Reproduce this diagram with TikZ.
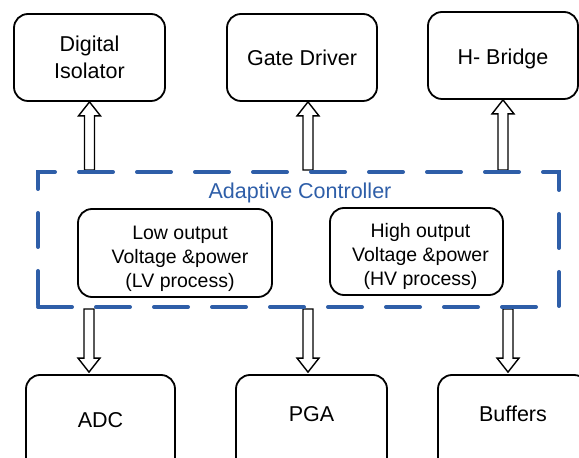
\documentclass[tikz,border=0pt]{standalone}
\usepackage{fontspec}
\setmainfont{Liberation Sans}
\usetikzlibrary{calc,backgrounds}
\definecolor{ctrlblue}{RGB}{46,94,168}
\begin{document}
\begin{tikzpicture}[x=1pt,y=1pt,
  box/.style={draw, line width=1.8pt, rounded corners=14pt, inner sep=0pt, align=center},
  bigtxt/.style={font=\fontsize{21.5}{27}\selectfont},
  midtxt/.style={font=\fontsize{19.5}{24}\selectfont, align=center, inner sep=0pt},
  upblock/.style={draw, line width=1.4pt, fill=white,
    to path={let \p1=(\tikztostart), \p2=(\tikztotarget) in
      (\x1-5pt,\y1) -- (\x1-5pt,\y2-14pt) -- (\x1-11pt,\y2-14pt) -- (\x1,\y2)
      -- (\x1+11pt,\y2-14pt) -- (\x1+5pt,\y2-14pt) -- (\x1+5pt,\y1) -- cycle}},
  downblock/.style={draw, line width=1.4pt, fill=white,
    to path={let \p1=(\tikztostart), \p2=(\tikztotarget) in
      (\x1-5pt,\y1) -- (\x1-5pt,\y2+14pt) -- (\x1-11pt,\y2+14pt) -- (\x1,\y2)
      -- (\x1+11pt,\y2+14pt) -- (\x1+5pt,\y2+14pt) -- (\x1+5pt,\y1) -- cycle}},
  ctrlbox/.style={draw=ctrlblue, line width=4pt, dash pattern=on 34pt off 24pt,
    line cap=round, inner sep=0pt, minimum width=521pt, minimum height=135pt}
]
\useasboundingbox (0,0) rectangle (579,458);

% top row
\node[box, bigtxt, minimum width=151pt, minimum height=87pt] (di) at (89.5,400.5) {Digital\\Isolator};
\node[box, bigtxt, minimum width=150pt, minimum height=87pt] (gd) at (302,400.5) {Gate Driver};
\node[box, bigtxt, minimum width=150pt, minimum height=87pt,
  label={[bigtxt, inner sep=0pt, yshift=-3pt]center:H- Bridge}] (hb) at (503,402.5) {};

% controller
\node[ctrlbox] (ctrl) at (298.5,218.5) {};
\node[text=ctrlblue, font=\fontsize{21.5}{26}\selectfont] (ctitle) at (300,265) {Adaptive Controller};
\node[box, minimum width=194pt, minimum height=88pt,
  label={[midtxt, xshift=5pt, yshift=-6pt]center:Low output\\Voltage \&power\\(LV process)}] (lv) at (175,205) {};
\node[box, minimum width=173pt, minimum height=87pt,
  label={[midtxt, xshift=4pt, yshift=-5pt]center:High output\\Voltage \&power\\(HV process)}] (hv) at (416.5,206.5) {};

% bottom row
\node[box, minimum width=149pt, minimum height=110pt,
  label={[bigtxt, inner sep=0pt, yshift=10pt]center:ADC}] (adc) at (100.5,28) {};
\node[box, minimum width=151pt, minimum height=110pt,
  label={[bigtxt, inner sep=0pt, yshift=16pt]center:PGA}] (pga) at (311.5,28) {};
\node[box, minimum width=150pt, minimum height=110pt,
  label={[bigtxt, inner sep=0pt, yshift=16pt]center:Buffers}] (buf) at (513,28) {};

% arrow x positions
\coordinate (xa) at (89.5,0);
\coordinate (xb) at (308,0);
\coordinate (xc) at (503,0);
\coordinate (xd) at (89,0);
\coordinate (xe) at (308,0);
\coordinate (xf) at (508,0);

\begin{scope}[on background layer]
  \draw[upblock] (ctrl.north -| xa) to (di.south -| xa);
  \draw[upblock] (ctrl.north -| xb) to (gd.south -| xb);
  \draw[upblock] (ctrl.north -| xc) to (hb.south -| xc);
  \draw[downblock] (ctrl.south -| xd) to ($(adc.north -| xd)+(0,2)$);
  \draw[downblock] (ctrl.south -| xe) to ($(pga.north -| xe)+(0,2)$);
  \draw[downblock] (ctrl.south -| xf) to ($(buf.north -| xf)+(0,2)$);
\end{scope}
\end{tikzpicture}
\end{document}
